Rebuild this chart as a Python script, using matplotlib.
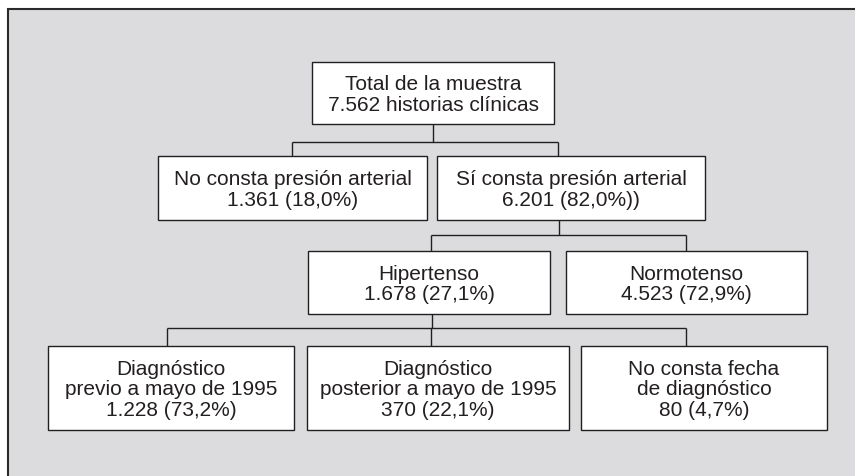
import matplotlib
matplotlib.use("Agg")
import matplotlib.pyplot as plt
from matplotlib.patches import Rectangle

# ---- data (text content of the flowchart) ----
node_titles = [
    "Total de la muestra",
    "No consta presión arterial",
    "Sí consta presión arterial",
    "Hipertenso",
    "Normotenso",
    "Diagnóstico\nprevio a mayo de 1995",
    "Diagnóstico\nposterior a mayo de 1995",
    "No consta fecha\nde diagnóstico",
]
node_values = [
    "7.562 historias clínicas",
    "1.361 (18,0%)",
    "6.201 (82,0%))",
    "1.678 (27,1%)",
    "4.523 (72,9%)",
    "1.228 (73,2%)",
    "370 (22,1%)",
    "80 (4,7%)",
]
# parent index of each node (-1 = root)
parents = [-1, 0, 0, 2, 2, 3, 3, 3]

# ---- layout (pixel coordinates: x0, x1, y0, y1) ----
boxes = [
    (312, 554, 63, 125),
    (158, 427, 157, 221),
    (437, 705, 157, 221),
    (308, 550, 252, 315),
    (566, 807, 252, 315),
    (48, 294, 347, 431),
    (307, 569, 347, 431),
    (581, 827, 347, 431),
]
# connector x positions where lines enter each box (from above) / leave (below)
enter_x = [None, 292, 558, 431, 686, 167, 431, 686]
leave_x = [433, None, 559, 432, None, None, None, None]
bus_y = {0: 143, 2: 236, 3: 329}

W, H = 855, 477
fig = plt.figure(figsize=(W / 100, H / 100), dpi=100)
ax = fig.add_axes([0, 0, 1, 1])
ax.set_xlim(0, W)
ax.set_ylim(H, 0)
ax.axis("off")
fig.patch.set_facecolor("white")

# background frame
ax.add_patch(Rectangle((7.5, 9.5), W + 20, H + 20, facecolor="#dcdcde",
                       edgecolor="#2a2a2a", linewidth=1.5, zorder=0))

line_kw = dict(color="#231f20", linewidth=1.0, solid_capstyle="butt", zorder=1)

# connectors
for p, by in bus_y.items():
    kids = [i for i, q in enumerate(parents) if q == p]
    px = leave_x[p]
    ax.plot([px, px], [boxes[p][3], by], **line_kw)
    xs = [enter_x[k] for k in kids]
    ax.plot([min(xs), max(xs)], [by, by], **line_kw)
    for k in kids:
        ax.plot([enter_x[k], enter_x[k]], [by, boxes[k][2]], **line_kw)

# boxes with text
for (x0, x1, y0, y1), t, v in zip(boxes, node_titles, node_values):
    ax.add_patch(Rectangle((x0, y0), x1 - x0, y1 - y0, facecolor="white",
                           edgecolor="#231f20", linewidth=1.0, zorder=2))
    ax.text((x0 + x1) / 2, (y0 + y1) / 2 + 1, t + "\n" + v, ha="center",
            va="center", fontsize=15, color="#231f20", linespacing=1.1,
            family=["Liberation Sans", "DejaVu Sans"],
            zorder=3)

fig.savefig("out.png", dpi=100, facecolor="white")
